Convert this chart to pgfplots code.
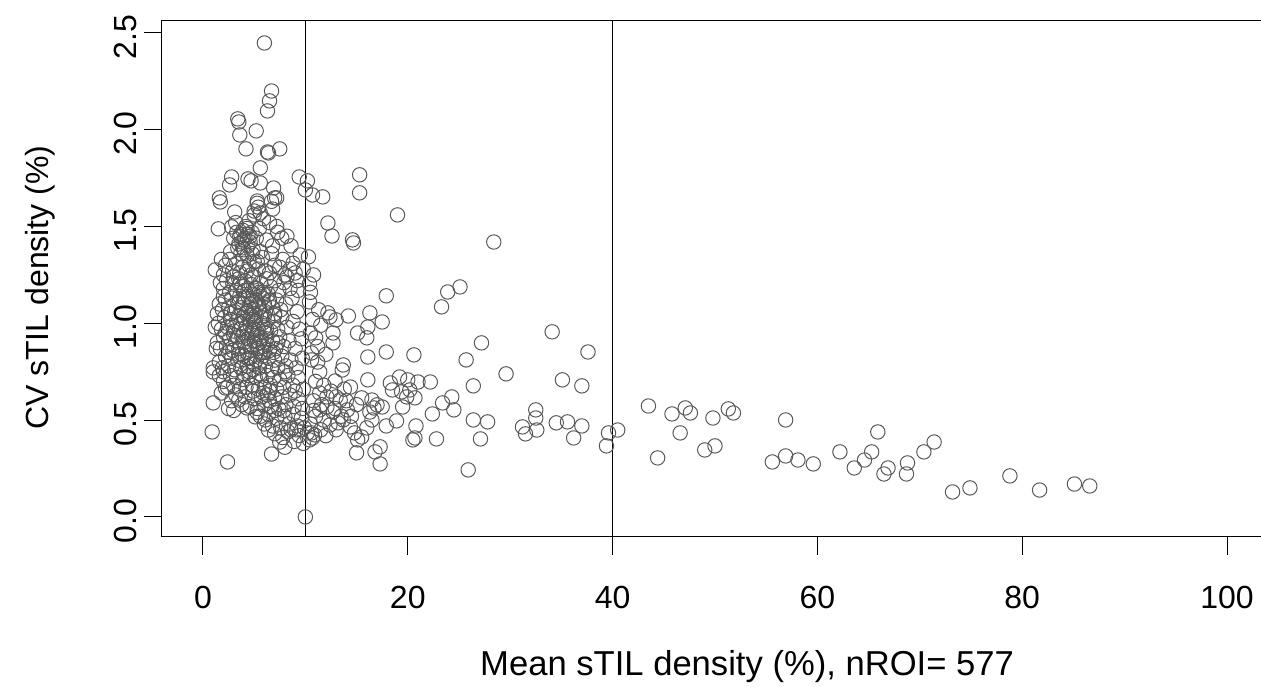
\documentclass[border=0pt]{standalone}
\usepackage{fontspec}
\setmainfont{Liberation Sans}
\usepackage{pgfplots}
\pgfplotsset{compat=1.18}

\begin{document}
\begin{tikzpicture}
\begin{axis}[
  scale only axis, width=553pt, height=258pt,
  xmin=-4, xmax=104, ymin=-0.103, ymax=2.562,
  clip=false,
  axis line style={draw=none},
  xtick={0,20,40,60,80,100}, ytick={0,0.5,1,1.5,2,2.5},
  tick pos=left, tick align=outside, major tick length=9pt,
  tick style={line width=0.5pt, black},
  /pgf/number format/assume math mode=true,
  yticklabel={\pgfmathprintnumber[fixed, fixed zerofill, precision=1]{\tick}},
  every tick label/.append style={font=\fontsize{16}{19}\selectfont},
  xticklabel style={anchor=north, yshift=-12pt},
  yticklabel style={anchor=south, rotate=90, xshift=-2pt},
  xlabel={Mean sTIL density (\%), nROI= 577},
  ylabel={CV sTIL density (\%)},
  every axis x label/.style={at={(axis description cs:0.529,-0.252)}, anchor=center, font=\fontsize{17.3}{20}\selectfont},
  every axis y label/.style={at={(axis description cs:-0.1103,0.483)}, anchor=center, rotate=90, font=\fontsize{16}{19}\selectfont},
]
% plot frame (right side lies outside the picture)
\draw[line width=0.5pt] (axis cs:110,2.562) -- (axis cs:-4,2.562) -- (axis cs:-4,-0.103) -- (axis cs:110,-0.103);
% reference lines
\addplot[black, line width=0.75pt] coordinates {(10,-0.103) (10,2.562)};
\addplot[black, line width=0.75pt] coordinates {(40,-0.103) (40,2.562)};
% sparse points
\addplot[only marks, mark=o, mark size=3.6pt, mark options={draw=black!65, line width=0.5pt}] coordinates {
(47.1,0.563) (47.6,0.537) (46.6,0.434) (49.8,0.511) (51.3,0.558) (51.8,0.537) (49.0,0.346) (50.0,0.367)
(56.9,0.501) (55.6,0.284) (56.9,0.315) (58.1,0.294) (59.6,0.274) (62.2,0.336) (65.9,0.439) (65.3,0.336)
(64.6,0.294) (63.6,0.253) (66.9,0.253) (66.5,0.222) (68.8,0.279) (68.7,0.222) (70.4,0.336) (71.4,0.387)
(73.2,0.129) (74.9,0.150) (78.8,0.212) (81.7,0.139) (85.1,0.170) (86.6,0.160)
(28.4,1.420) (34.1,0.956) (37.6,0.852) (29.6,0.739) (35.1,0.708) (37.0,0.677) (32.5,0.553) (32.5,0.511)
(31.2,0.465) (31.5,0.429) (32.6,0.449) (34.5,0.486) (35.6,0.491) (37.0,0.470) (36.2,0.408) (39.6,0.434)
(40.5,0.449) (39.4,0.367) (43.5,0.573) (45.8,0.532) (44.4,0.305)
(15.3,1.767) (15.3,1.674) (19.0,1.560) (12.2,1.518) (12.6,1.451) (14.6,1.431) (14.7,1.415) (10.3,1.343)
(10.4,1.204) (10.4,1.111) (17.9,1.142) (23.9,1.162) (25.1,1.188) (23.3,1.085) (12.2,1.054) (12.4,1.033)
(13.0,1.018) (14.2,1.038) (16.3,1.054) (17.5,1.007) (16.1,0.981) (12.7,0.950) (15.1,0.950) (16.0,0.925)
(11.0,0.925) (12.7,0.899) (27.2,0.899)
(9.4,1.756) (10.2,1.736) (10.0,1.689) (10.7,1.663) (11.7,1.653)
(17.9,0.852) (20.6,0.837) (16.1,0.826) (25.7,0.811) (13.7,0.785) (13.6,0.759) (11.4,0.749) (10.6,0.847)
(10.6,0.811) (11.2,0.800) (16.1,0.708) (12.9,0.702) (14.4,0.671) (18.3,0.692) (19.2,0.723) (20.0,0.708)
(21.0,0.697) (22.2,0.697) (18.5,0.656) (19.4,0.646) (20.2,0.656) (19.9,0.620) (20.7,0.615) (19.5,0.568)
(26.4,0.677) (24.3,0.620) (23.4,0.589) (24.5,0.553) (22.4,0.532) (26.4,0.501) (27.8,0.491) (27.1,0.403)
(25.9,0.243) (22.8,0.403) (20.8,0.470) (20.7,0.408) (20.5,0.398) (18.9,0.496) (17.9,0.470) (16.5,0.604)
(17.0,0.579) (16.7,0.563) (16.3,0.542) (17.5,0.568) (15.5,0.615) (16.5,0.501) (16.0,0.460) (17.3,0.362)
(16.8,0.336) (17.3,0.274) (15.0,0.331) (14.4,0.465) (14.8,0.434) (15.5,0.413) (15.1,0.398) (13.7,0.501)
(13.2,0.486) (12.4,0.475) (14.1,0.553) (12.1,0.568) (11.4,0.553) (12.7,0.542) (13.4,0.604) (12.1,0.620)
(11.4,0.640) (10.6,0.434) (10.7,0.408) (10.4,0.398) (10.0,0.0)
(11.0,0.70) (11.8,0.68) (12.5,0.65) (13.0,0.62) (10.8,0.60) (11.6,0.58) (12.9,0.56) (13.5,0.52)
(14.5,0.52) (11.0,0.52) (11.8,0.50) (10.5,0.48) (13.0,0.45) (11.5,0.45) (12.0,0.42) (10.8,0.55)
(14.0,0.60) (15.0,0.58) (13.8,0.66) (11.2,0.88) (12.0,0.84) (10.5,0.95) (11.5,0.99) (10.7,1.02)
(11.3,1.07) (10.5,1.16) (10.8,1.25)
(1.0,0.749) (1.0,0.770) (2.2,0.666) (1.0,0.589) (0.9,0.439) (2.4,0.284) (6.7,0.325) (7.5,0.387)
(6.4,0.449) (3.5,0.604) (4.3,0.563) (5.1,0.517) (6.1,0.501) (10.9,0.424) (10.2,0.434)
(6.0,2.448) (6.7,2.200) (6.5,2.149) (6.3,2.097) (3.4,2.056) (3.5,2.040) (3.6,1.973) (5.2,1.994)
(4.2,1.901) (6.3,1.885) (6.4,1.880) (7.5,1.901) (5.6,1.803) (2.8,1.756) (2.6,1.715) (4.4,1.746)
(4.7,1.736) (5.6,1.725) (1.6,1.648) (5.3,1.632) (6.9,1.699) (7.0,1.648) (7.2,1.648)
(1.7,1.627) (3.1,1.575) (5.3,1.62) (5.4,1.60) (5.6,1.57) (6.7,1.63) (6.8,1.59) (1.5,1.488)
(2.8,1.498) (6.5,1.52) (7.2,1.50) (7.3,1.47) (8.2,1.45) (6.2,1.43) (6.8,1.40) (6.7,1.36)
(9.5,1.353) (1.2,1.276) (7.5,1.29) (8.0,1.25) (8.5,1.28) (9.0,1.26) (9.2,1.22) (9.3,1.17)
};
% dense cluster below 10 %
\addplot[only marks, mark=o, mark size=3.6pt, mark options={draw=black!65, line width=0.5pt}] coordinates {
(3.3,1.47) (3.6,1.45) (3.9,1.48) (4.1,1.44) (4.4,1.46) (3.8,1.42) (4.2,1.50) (3.5,1.41) (4.6,1.42) (4.0,1.38)
(3.7,1.36) (4.3,1.35) (4.8,1.47) (5.2,1.44) (3.2,1.52) (4.5,1.53) (5.0,1.56) (3.0,1.44) (4.9,1.38) (5.5,1.49)
(2.2,1.30) (2.6,1.33) (2.9,1.27) (3.3,1.31) (3.6,1.26) (4.5,1.30) (5.0,1.32) (5.4,1.28) (5.8,1.34) (6.1,1.27)
(2.0,1.25) (3.9,1.29) (4.7,1.25) (5.6,1.37) (7.0,1.30) (7.8,1.33) (6.5,1.26) (2.7,1.37) (1.8,1.33) (8.8,1.31)
(2.0,1.18) (2.3,1.22) (2.6,1.16) (2.9,1.21) (3.2,1.17) (3.5,1.23) (3.8,1.19) (4.1,1.22) (4.4,1.17) (4.7,1.20)
(5.0,1.24) (5.3,1.18) (5.6,1.21) (5.9,1.16) (6.2,1.23) (6.6,1.19) (7.0,1.22) (7.4,1.17) (7.9,1.21) (8.5,1.18)
(1.7,1.21) (3.0,1.24) (4.9,1.15) (6.4,1.15) (8.2,1.24)
(1.6,1.10) (1.9,1.07) (2.2,1.12) (2.5,1.08) (2.8,1.13) (3.1,1.06) (3.4,1.11) (3.7,1.08) (4.0,1.13) (4.3,1.06)
(4.6,1.10) (4.9,1.07) (5.2,1.12) (5.5,1.08) (5.8,1.13) (6.1,1.06) (6.4,1.11) (6.8,1.08) (7.2,1.12) (7.6,1.07)
(8.1,1.10) (8.7,1.13) (9.2,1.06) (2.0,1.14) (3.6,1.14) (5.0,1.05) (6.0,1.10) (4.4,1.14) (7.0,1.05) (2.7,1.05)
(1.5,1.00) (1.8,0.97) (2.1,1.03) (2.4,0.98) (2.7,1.02) (3.0,0.96) (3.3,1.01) (3.6,0.97) (3.9,1.03) (4.2,0.98)
(4.5,1.02) (4.8,0.96) (5.1,1.01) (5.4,0.97) (5.7,1.03) (6.0,0.98) (6.3,1.02) (6.6,0.96) (6.9,1.01) (7.3,0.97)
(7.7,1.03) (8.2,0.98) (8.8,1.01) (9.4,0.97) (2.2,0.95) (3.5,1.04) (4.6,0.99) (5.2,1.04) (6.1,0.95) (4.0,0.95)
(7.0,1.04) (2.9,0.99)
(1.4,0.90) (1.7,0.87) (2.0,0.93) (2.3,0.88) (2.6,0.92) (2.9,0.86) (3.2,0.91) (3.5,0.87) (3.8,0.93) (4.1,0.88)
(4.4,0.92) (4.7,0.86) (5.0,0.91) (5.3,0.87) (5.6,0.93) (5.9,0.88) (6.2,0.92) (6.5,0.86) (6.8,0.91) (7.1,0.87)
(7.5,0.93) (7.9,0.88) (8.4,0.91) (9.0,0.87) (9.6,0.92) (3.0,0.94) (4.3,0.85) (5.5,0.90) (6.0,0.85) (4.8,0.94)
(7.3,0.90) (2.5,0.85)
(1.6,0.80) (1.9,0.77) (2.2,0.83) (2.5,0.78) (2.8,0.82) (3.1,0.76) (3.4,0.81) (3.7,0.77) (4.0,0.83) (4.3,0.78)
(4.6,0.82) (4.9,0.76) (5.2,0.81) (5.5,0.77) (5.8,0.83) (6.1,0.78) (6.4,0.82) (6.7,0.76) (7.0,0.81) (7.3,0.77)
(7.7,0.83) (8.1,0.78) (8.6,0.81) (9.1,0.77) (9.7,0.82) (3.5,0.84) (4.5,0.75) (5.6,0.80) (6.9,0.85) (2.0,0.75)
(2.0,0.70) (2.4,0.67) (2.7,0.73) (3.0,0.68) (3.3,0.72) (3.6,0.66) (3.9,0.71) (4.2,0.67) (4.5,0.73) (4.8,0.68)
(5.1,0.72) (5.4,0.66) (5.7,0.71) (6.0,0.67) (6.3,0.73) (6.6,0.68) (6.9,0.72) (7.2,0.66) (7.5,0.71) (7.9,0.67)
(8.3,0.73) (8.8,0.68) (9.3,0.72) (9.8,0.66) (4.0,0.74) (5.5,0.74) (6.5,0.65) (8.0,0.75)
(2.8,0.60) (3.2,0.63) (3.8,0.58) (4.1,0.62) (4.6,0.57) (5.0,0.61) (5.3,0.56) (5.7,0.62) (6.0,0.58) (6.3,0.63)
(6.7,0.57) (7.0,0.61) (7.4,0.56) (7.7,0.62) (8.1,0.58) (8.5,0.63) (8.9,0.57) (9.3,0.61) (9.7,0.56) (6.5,0.60)
(7.9,0.55) (9.0,0.65) (4.9,0.65) (5.9,0.64)
(5.6,0.52) (6.0,0.48) (6.4,0.53) (6.8,0.47) (7.2,0.51) (7.6,0.46) (8.0,0.52) (8.4,0.48) (8.8,0.53) (9.2,0.47)
(9.6,0.51) (7.0,0.55) (8.6,0.45) (9.9,0.46) (5.3,0.54)
(7.0,0.43) (7.8,0.41) (8.3,0.44) (8.9,0.39) (9.4,0.42) (9.8,0.38) (8.0,0.36) (9.1,0.45)
(4.2,1.05) (4.8,1.12) (5.3,0.95) (4.6,0.88) (5.8,1.00) (5.1,1.18) (4.4,0.82) (5.6,0.85) (3.9,1.10) (5.9,1.15)
(4.0,0.90) (5.0,0.79) (6.3,0.89) (3.7,1.00) (4.9,1.02) (5.4,1.10) (4.3,0.96) (6.0,1.04) (3.4,0.93) (5.5,1.16)
(4.7,1.04) (5.2,0.89) (3.8,0.84) (6.2,0.97) (4.1,1.17) (5.7,0.92) (4.5,1.08) (5.0,0.97) (3.6,1.20) (6.5,1.12)
(4.3,1.27) (5.3,1.32) (4.8,1.36) (3.9,1.39) (4.4,1.40) (4.0,1.43) (3.7,1.46) (4.3,1.49) (4.6,1.45) (3.4,1.39)
(5.0,1.58) (5.9,1.54) (7.7,1.44) (8.6,1.40) (9.8,1.28)
(1.3,0.87) (1.6,0.73) (1.8,0.64) (2.5,0.56) (3.0,0.55) (1.4,1.05) (1.2,0.98)
};
\coordinate (bbsw) at (axis cs:-19.82,-0.878);
\coordinate (bbne) at (axis cs:103.32,2.670);
\end{axis}
\pgfresetboundingbox
\useasboundingbox (bbsw) rectangle (bbne);
\end{tikzpicture}
\end{document}
